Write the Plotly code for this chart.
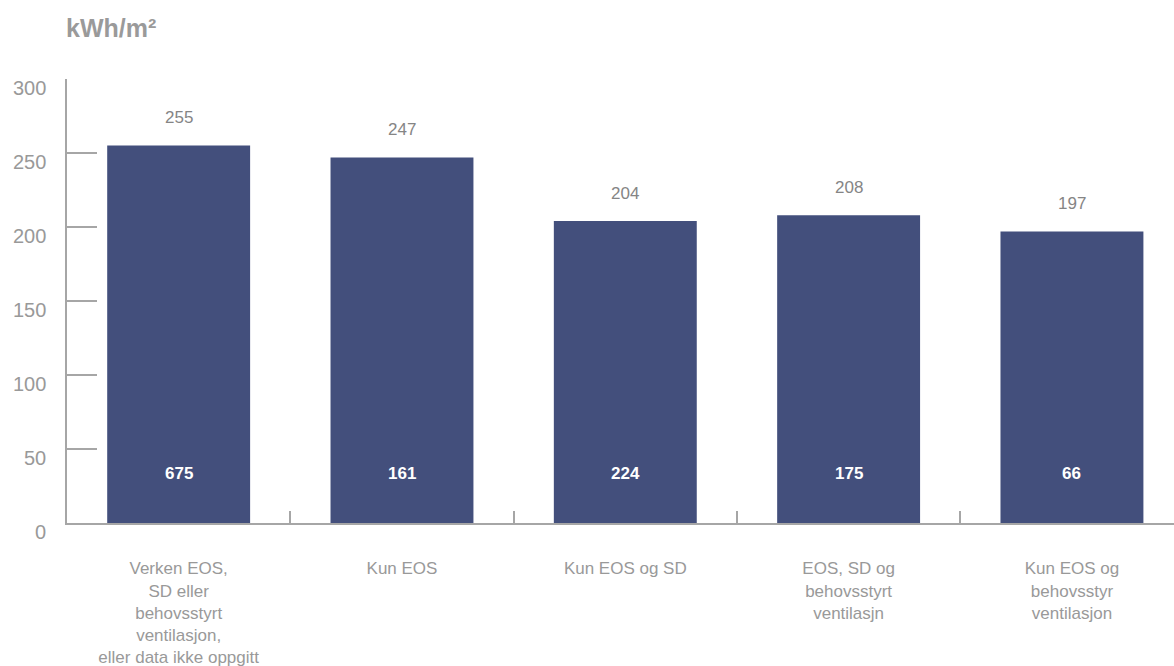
import plotly.graph_objects as go

categories = [
    "Verken EOS,<br>SD eller<br>behovsstyrt<br>ventilasjon,<br>eller data ikke oppgitt",
    "Kun EOS",
    "Kun EOS og SD",
    "EOS, SD og<br>behovsstyrt<br>ventilasjn",
    "Kun EOS og<br>behovsstyr<br>ventilasjon",
]
values = [255, 247, 204, 208, 197]
counts = [675, 161, 224, 175, 66]
y_ticks = [0, 50, 100, 150, 200, 250, 300]
unit_title = "kWh/m²"

FONT = "Liberation Sans, Arial, sans-serif"
BAR = "#434f7c"
AXIS = "#a6a6a6"

fig = go.Figure()
fig.add_trace(go.Bar(
    x=categories, y=values, width=0.64, marker=dict(color=BAR, line=dict(width=0)),
    hoverinfo="skip",
))

ann = []
for i, v in enumerate(values):
    ann.append(dict(x=i, y=v, xref="x", yref="y", text=str(v), showarrow=False,
                    yanchor="middle", yshift=28,
                    font=dict(family=FONT, size=17, color="#858585")))
for i, c in enumerate(counts):
    ann.append(dict(x=i, y=0, xref="x", yref="y", text=f"<b>{c}</b>", showarrow=False,
                    yanchor="middle", yshift=50,
                    font=dict(family=FONT, size=17, color="#ffffff")))
for t in y_ticks:
    ann.append(dict(x=0, y=t, xref="paper", yref="y", text=str(t), showarrow=False,
                    xanchor="right", yanchor="middle", xshift=-19, yshift=-9,
                    font=dict(family=FONT, size=20, color="#999999")))
ann.append(dict(x=0, y=1, xref="paper", yref="paper", text=f"<b>{unit_title}</b>",
                showarrow=False, xanchor="left", yanchor="middle", xshift=-3, yshift=51,
                font=dict(family=FONT, size=25, color="#9a9a9a")))

fig.update_layout(
    width=1174, height=666,
    margin=dict(l=67, r=0, t=79, b=143),
    paper_bgcolor="white", plot_bgcolor="white",
    showlegend=False,
    annotations=ann,
    xaxis=dict(
        type="category", range=[-0.5, 4.457], automargin=False,
        tickson="boundaries", ticks="inside", ticklen=12, tickwidth=2, tickcolor=AXIS,
        showline=True, linecolor=AXIS, linewidth=2, showgrid=False, zeroline=False,
        tickfont=dict(family=FONT, size=17, color="#999999"),
        ticklabelstandoff=29,
    ),
    yaxis=dict(
        range=[0, 300], tickmode="array", tickvals=y_ticks, showticklabels=False,
        automargin=False,
        ticks="inside", ticklen=30, tickwidth=2, tickcolor=AXIS,
        showline=True, linecolor=AXIS, linewidth=2, showgrid=False, zeroline=False,
    ),
)

fig.write_html("out.html")
